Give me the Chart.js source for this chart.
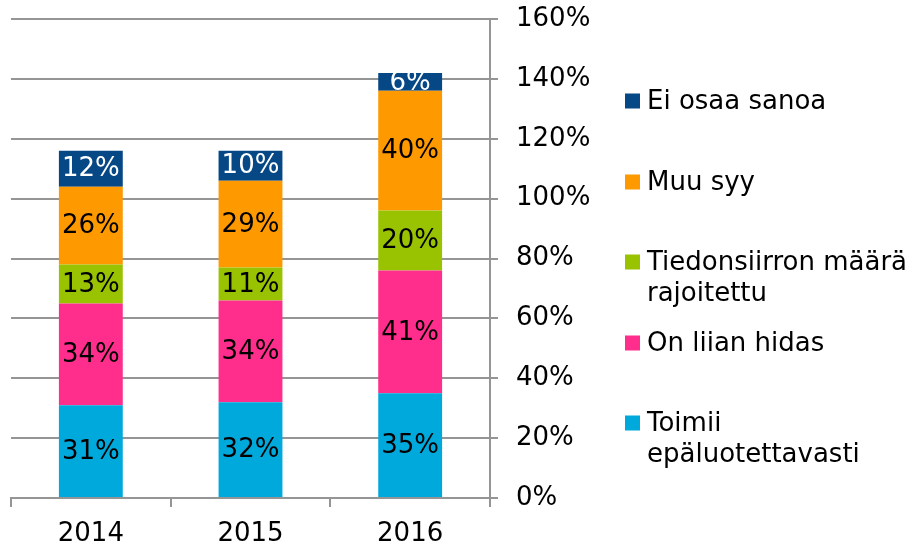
<!DOCTYPE html>
<html>
<head>
<meta charset="utf-8">
<script src="https://cdn.jsdelivr.net/npm/chart.js@4"></script>
<style>
  body { margin: 0; background: #fff; }
  canvas { display: block; }
</style>
</head>
<body>
<canvas id="chart" width="917" height="549"></canvas>
<script>
// data, bottom segment first
const years = ['2014', '2015', '2016'];
const seriesNames = ['Toimii\nepäluotettavasti', 'On liian hidas', 'Tiedonsiirron määrä\nrajoitettu', 'Muu syy', 'Ei osaa sanoa'];
const seriesColors = ['#00a9dc', '#ff2e8c', '#99c300', '#ff9900', '#064785'];
const toimii = [31, 32, 35];
const hidas = [34, 34, 41];
const rajoitettu = [13, 11, 20];
const muuSyy = [26, 29, 40];
const eiOsaa = [12, 10, 6];
const yTicks = [0, 20, 40, 60, 80, 100, 120, 140, 160];

const FONT = 'DejaVu Sans, Verdana, sans-serif';
const GRID = '#959595';
const values = [toimii, hidas, rajoitettu, muuSyy, eiOsaa];

// numbers inside the segments
const segmentLabels = {
  id: 'segmentLabels',
  afterDatasetsDraw(chart) {
    const ctx = chart.ctx;
    ctx.save();
    ctx.font = '26px ' + FONT;
    ctx.textAlign = 'center';
    ctx.textBaseline = 'middle';
    chart.data.datasets.forEach((ds, i) => {
      ctx.fillStyle = i === 4 ? '#ffffff' : '#000000';
      chart.getDatasetMeta(i).data.forEach((bar, j) => {
        ctx.fillText(ds.data[j] + '%', bar.x, (bar.y + bar.base) / 2 + 1);
      });
    });
    ctx.restore();
  }
};

// legend on the right, top item = top segment
const sideLegend = {
  id: 'sideLegend',
  afterDraw(chart) {
    const ctx = chart.ctx;
    const rows = [423, 343, 262, 182, 101];
    ctx.save();
    ctx.font = '26px ' + FONT;
    ctx.textAlign = 'left';
    ctx.textBaseline = 'middle';
    seriesNames.forEach((name, i) => {
      const y = rows[i];
      ctx.fillStyle = seriesColors[i];
      ctx.fillRect(625, y - 7.5, 15, 15);
      ctx.fillStyle = '#000';
      name.split('\n').forEach((line, k) => {
        ctx.fillText(line, 647, y + 1 + k * 31);
      });
    });
    ctx.restore();
  }
};

new Chart(document.getElementById('chart'), {
  type: 'bar',
  data: {
    labels: years,
    datasets: values.map((v, i) => ({
      label: seriesNames[i].replace('\n', ' '),
      data: v,
      backgroundColor: seriesColors[i],
      borderWidth: 0,
      categoryPercentage: 1,
      barPercentage: 0.4
    }))
  },
  options: {
    responsive: false,
    animation: false,
    layout: { padding: { left: 11, top: 19, right: 0, bottom: 0 } },
    plugins: { legend: { display: false }, tooltip: { enabled: false } },
    scales: {
      x: {
        stacked: true,
        afterFit(s) { s.height = 51; s.paddingLeft = 0; s.paddingRight = 0; },
        grid: { drawOnChartArea: false, color: GRID, lineWidth: 2, tickLength: 9, offset: true },
        border: { color: GRID, width: 2 },
        ticks: { color: '#000', font: { family: FONT, size: 26 }, padding: 12 }
      },
      y: {
        stacked: true,
        position: 'right',
        min: 0,
        max: 160,
        afterFit(s) { s.width = 427; s.paddingTop = 0; s.paddingBottom = 0; },
        afterBuildTicks(s) { s.ticks = yTicks.map(v => ({ value: v })); },
        grid: { color: GRID, lineWidth: 2, tickLength: 8 },
        border: { color: GRID, width: 2 },
        ticks: {
          color: '#000',
          font: { family: FONT, size: 26 },
          padding: 18,
          callback: v => v + '%'
        }
      }
    }
  },
  plugins: [segmentLabels, sideLegend]
});
</script>
</body>
</html>
